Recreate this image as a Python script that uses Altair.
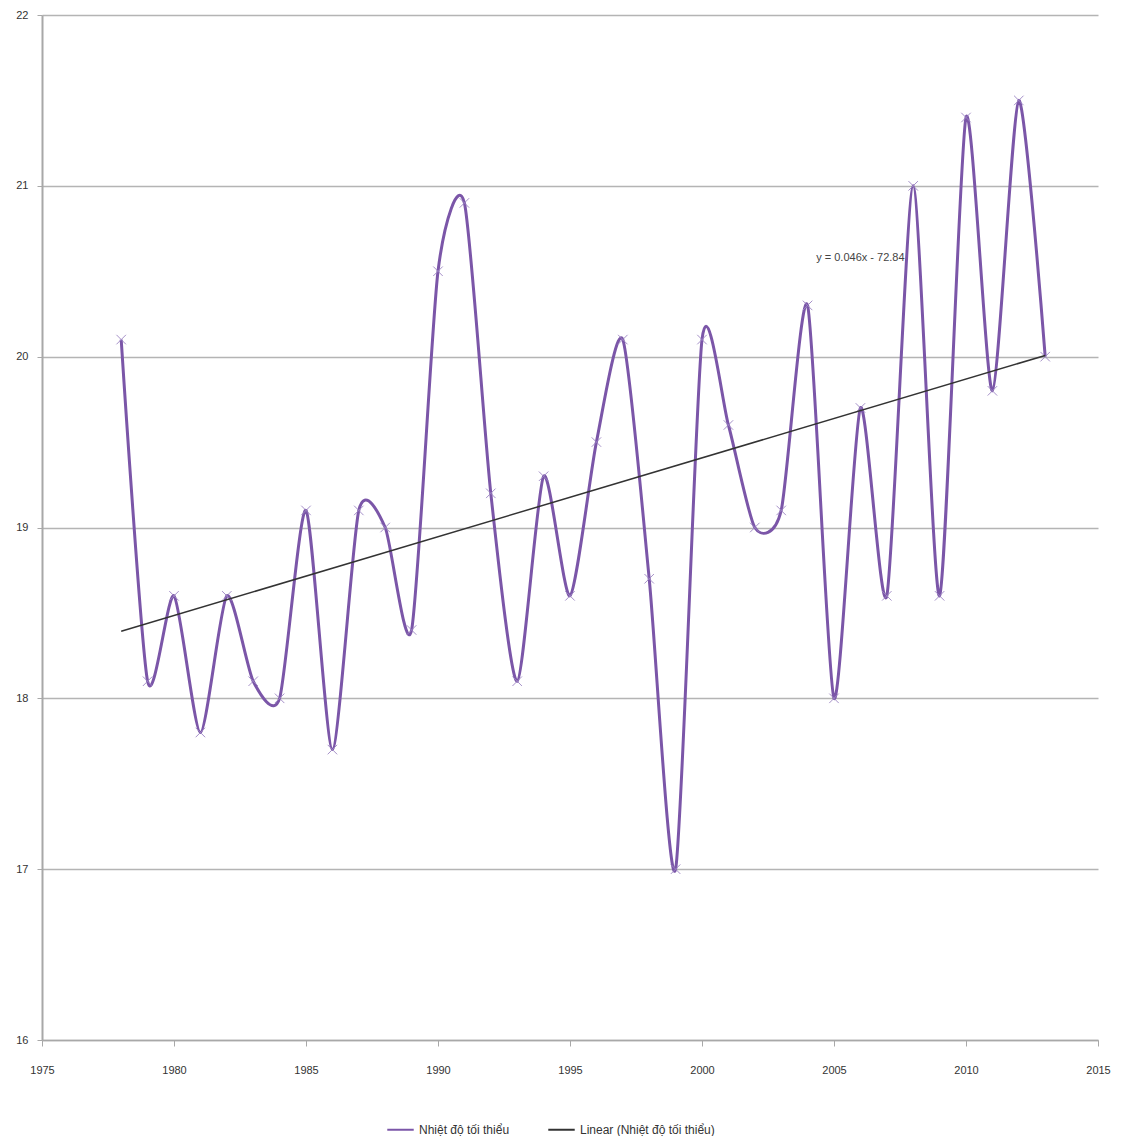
import altair as alt
import pandas as pd

years = list(range(1978, 2014))
temps = [20.1, 18.1, 18.6, 17.8, 18.6, 18.1, 18.0, 19.1, 17.7, 19.1,
         19.0, 18.4, 20.5, 20.9, 19.2, 18.1, 19.3, 18.6, 19.5, 20.1,
         18.7, 17.0, 20.1, 19.6, 19.0, 19.1, 20.3, 18.0, 19.7, 18.6,
         21.0, 18.6, 21.4, 19.8, 21.5, 20.0]
series_names = ["Nhiệt độ tối thiểu", "Linear (Nhiệt độ tối thiểu)"]
x_ticks = [1975, 1980, 1985, 1990, 1995, 2000, 2005, 2010, 2015]
y_ticks = [16, 17, 18, 19, 20, 21, 22]
eq_text = ["y = 0.046x - 72.84"]
eq_year = [2006]
eq_temp = [20.58]

df = pd.DataFrame({"year": years, "temp": temps, "series": series_names[0]})
eq_df = pd.DataFrame({"year": eq_year, "temp": eq_temp, "label": eq_text})

FONT = "'Liberation Sans Narrow', 'Arial Narrow', 'Liberation Sans', sans-serif"

xscale = alt.Scale(domain=[1975, 2015], nice=False, zero=False)
yscale = alt.Scale(domain=[16, 22], nice=False, zero=False)

x_enc = alt.X("year:Q", scale=xscale,
              axis=alt.Axis(values=x_ticks, format="d", grid=False, title=None,
                            tickSize=6, labelPadding=18, labelFontSize=11,
                            labelFont=FONT, labelColor="#333333", labelFlush=False,
                            domainColor="#a8a8a8", tickColor="#a8a8a8",
                            domainWidth=1.5))
y_enc = alt.Y("temp:Q", scale=yscale,
              axis=alt.Axis(values=y_ticks, format="d", grid=True, gridColor="#b4b4b4",
                            gridWidth=1.5, title=None, tickSize=5, labelFlush=False,
                            labelPadding=9, labelFontSize=11, labelFont=FONT,
                            labelColor="#333333", domainColor="#a8a8a8",
                            domainWidth=2, tickColor="#a8a8a8"))

color = alt.Color("series:N",
                  scale=alt.Scale(domain=series_names, range=["#7b56a8", "#333333"]),
                  legend=alt.Legend(title=None, orient="none", legendX=344,
                                    legendY=1100, direction="horizontal",
                                    symbolType="stroke", symbolSize=700,
                                    symbolStrokeWidth=2, labelFontSize=12,
                                    labelFont=FONT, labelColor="#333333",
                                    columnPadding=34))

base = alt.Chart(df)

curve = base.mark_line(interpolate="cardinal", tension=0.3, strokeWidth=3).encode(
    x=x_enc, y=y_enc, color=color)

points = base.mark_point(shape="M-1,-1L1,1M-1,1L1,-1", filled=False, size=90,
                         strokeWidth=1, color="#9d86c4", opacity=0.9).encode(
    x="year:Q", y="temp:Q")

trend = base.transform_regression("year", "temp", method="linear").transform_calculate(
    series="'" + series_names[1] + "'"
).mark_line(strokeWidth=1.5).encode(x="year:Q", y="temp:Q", color=color)

eq = alt.Chart(eq_df).mark_text(fontSize=11, font=FONT, color="#444444").encode(
    x="year:Q", y="temp:Q", text="label:N")

chart = alt.layer(curve, points, trend, eq).properties(
    width=1056, height=1025,
    autosize=alt.AutoSizeParams(type="none"),
    padding={"left": 42, "top": 15, "right": 28, "bottom": 96},
    background="white",
).configure_view(stroke=None)

chart.save("out.html", embed_options={"renderer": "svg", "actions": False})
